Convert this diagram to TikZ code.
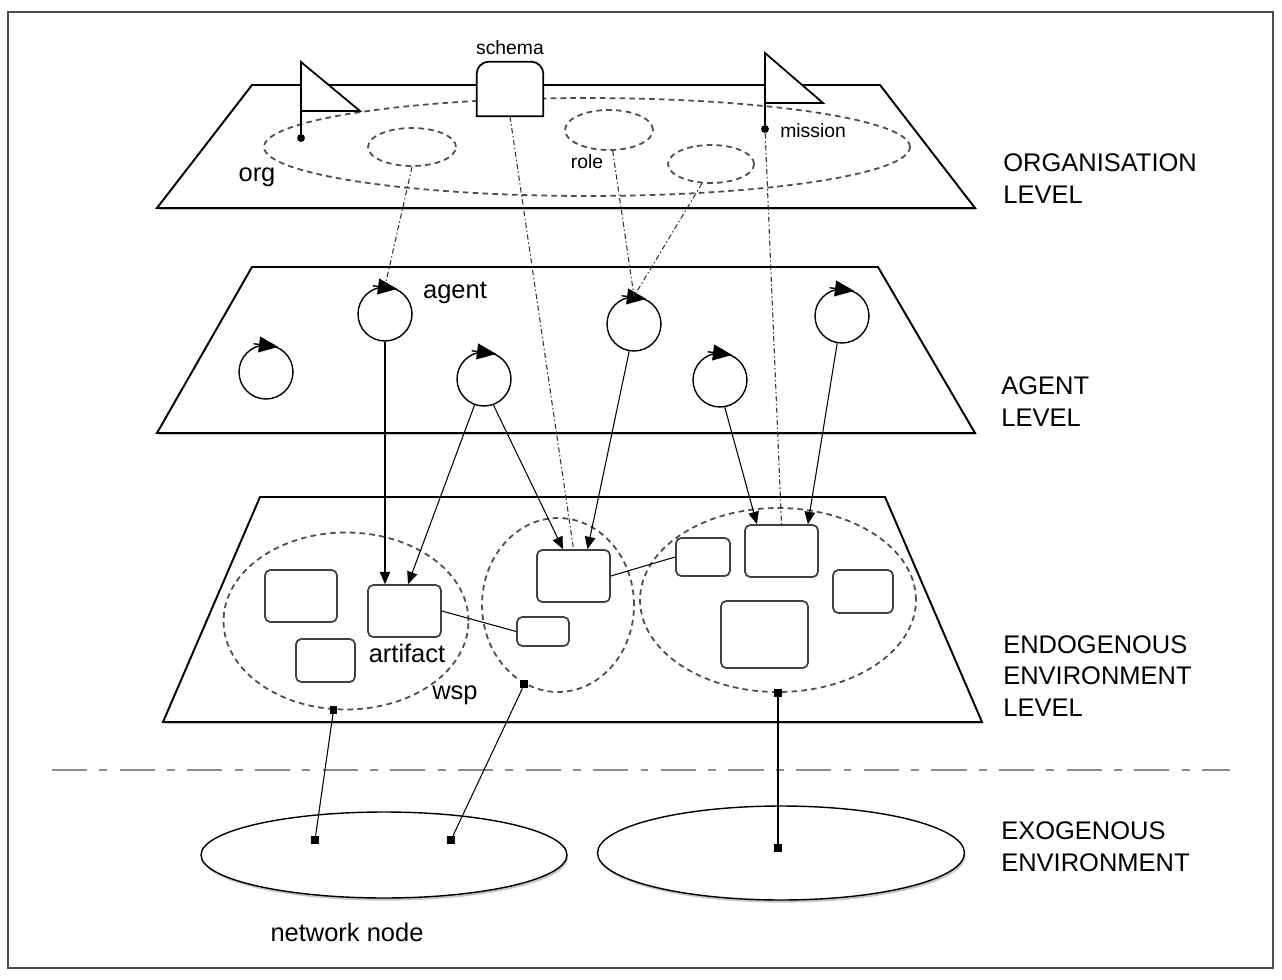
\documentclass[tikz,border=0pt]{standalone}
\usepackage{fontspec}
\setmainfont{Liberation Sans}
\usetikzlibrary{shapes.geometric,arrows.meta,shadows}

\tikzset{
  levelplane/.style={draw, line width=1.1pt, fill=white,
    drop shadow={shadow xshift=0.7pt, shadow yshift=-1.2pt, opacity=0.45}},
  grp/.style={ellipse, draw=black!70, line width=1pt, dash pattern=on 3.2pt off 2.4pt, inner sep=0pt},
  agent/.style={circle, draw, line width=0.8pt, fill=white, minimum size=1.08cm, inner sep=0pt},
  artif/.style={rectangle, rounded corners=3pt, draw=black!75, line width=1pt, fill=white, inner sep=0pt},
  link/.style={line width=0.6pt, black!80, dash pattern=on 3pt off 1.5pt on 0.8pt off 1.5pt},
  act/.style={-{Triangle[length=7pt,width=6pt]}, line width=0.6pt},
  sq/.style={fill, rectangle, minimum size=4.5pt, inner sep=0pt},
  flagdot/.style={fill, circle, minimum size=4.5pt, inner sep=0pt},
  lvl/.style={anchor=west, align=left, inner sep=0pt, font=\fontsize{14.5}{18.1}\selectfont},
  lbl/.style={inner sep=0pt, font=\fontsize{14.5}{17}\selectfont},
  smalltxt/.style={inner sep=0pt, font=\fontsize{11}{13}\selectfont}
}

\begin{document}
\begin{tikzpicture}[x=0.02cm, y=-0.02cm]
\useasboundingbox (0,0) rectangle (1282,980);
\draw[line width=1pt, black!70] (8,12) rectangle (1273,968);

% organisation level
\draw[levelplane] (252,85) -- (880,85) -- (975,208) -- (157,208) -- cycle;
\node[grp, minimum width=12.92cm, minimum height=1.96cm] (orgell) at (587,147) {};
\node[grp, minimum width=1.76cm, minimum height=0.76cm] (roleA) at (412,147) {};
\node[grp, minimum width=1.76cm, minimum height=0.80cm] (roleB) at (609,130) {};
\node[grp, minimum width=1.72cm, minimum height=0.76cm] (roleC) at (711,164) {};
\draw[line width=1pt, fill=white] (301,111) -- (301,62) -- (360,111) -- cycle;
\draw[line width=1pt, fill=white] (765,103) -- (765,53) -- (823,103) -- cycle;
\node[flagdot] (orgdot) at (301,138) {};
\node[flagdot] (misdot) at (765,129) {};
\draw[line width=1pt] (301,111) -- (orgdot);
\draw[line width=1pt] (765,103) -- (misdot);
\node[minimum width=1.32cm, minimum height=1.08cm, inner sep=0pt] (schema) at (510,89) {};
\draw[line width=1pt, fill=white] (schema.south west) -- ([yshift=-7pt]schema.north west)
  arc[start angle=180, end angle=90, radius=7pt] -- ([xshift=-7pt]schema.north east)
  arc[start angle=90, end angle=0, radius=7pt] -- (schema.south east) -- cycle;
\node[smalltxt, above=4pt] at (schema.north) {schema};
\node[lbl] at (257,177) {org};
\node[smalltxt] at (587,162) {role};
\node[smalltxt, anchor=west] at (780,131) {mission};

% agent level
\draw[levelplane] (252,267) -- (878,267) -- (975,433) -- (157,433) -- cycle;
\node[agent] (ag1) at (266,372) {};
\node[agent] (ag2) at (385,314) {};
\node[agent] (ag3) at (484,379) {};
\node[agent] (ag4) at (634,324) {};
\node[agent] (ag5) at (720,380) {};
\node[agent] (ag6) at (842,316) {};
\foreach \i in {1,...,6}
  \draw[-{Triangle[length=11pt,width=9pt]}, line width=0.8pt]
    ([xshift=-7pt,yshift=0.3pt]ag\i.north) -- ([xshift=7pt,yshift=-1.5pt]ag\i.north);
\node[lbl] at (455,293) {agent};

% endogenous environment level
\draw[levelplane] (260,497) -- (885,497) -- (982,722) -- (163,722) -- cycle;
\node[grp, minimum width=4.90cm, minimum height=3.54cm] (wsp1) at (346,621) {};
\node[grp, minimum width=3.04cm, minimum height=3.48cm] (wsp2) at (558,605) {};
\node[grp, minimum width=5.52cm, minimum height=3.68cm] (wsp3) at (778,600) {};
\node[artif, minimum width=1.44cm, minimum height=1.04cm] (l1) at (301,596) {};
\node[artif, minimum width=1.46cm, minimum height=1.04cm] (art) at (404.5,611) {};
\node[artif, minimum width=1.18cm, minimum height=0.86cm] (l3) at (325.5,660.5) {};
\node[artif, minimum width=1.46cm, minimum height=1.04cm] (m1) at (573.5,576) {};
\node[artif, minimum width=1.04cm, minimum height=0.58cm] (m2) at (543,631.5) {};
\node[artif, minimum width=1.08cm, minimum height=0.76cm] (r1) at (703,557) {};
\node[artif, minimum width=1.46cm, minimum height=1.04cm] (r2) at (781.5,551) {};
\node[artif, minimum width=1.20cm, minimum height=0.86cm] (r3) at (863,591.5) {};
\node[artif, minimum width=1.74cm, minimum height=1.34cm] (r4) at (764.5,634.5) {};
\node[lbl] at (407,653) {artifact};
\node[lbl] at (455,695) {wsp};
\draw[line width=0.6pt] (art.east) -- (m2.west);
\draw[line width=0.6pt] (m1.east) -- (r1.west);
\node[sq] (w1) at (wsp1.-98) {};
\node[sq] (w2) at (wsp2.-113) {};
\node[sq] (w3) at (wsp3.south) {};

% links between levels
\draw[link] (roleA.south) -- (ag2.north);
\draw[link] (schema.south) -- (m1.north);
\draw[link] (roleB.-80) -- (ag4.north);
\draw[link] (roleC.-115) -- (ag4.north);
\draw[link] (misdot) -- (r2.north);
\draw[act] (ag2.south) -- (ag2.south |- art.north);
\draw[act] (ag3.-110) -- ([xshift=2pt]art.north);
\draw[act] (ag3.-70) -- ([xshift=-6pt]m1.north);
\draw[act] (ag4.-100) -- ([xshift=8pt]m1.north);
\draw[act] (ag5.-80) -- ([xshift=-14pt]r2.north);
\draw[act] (ag6.-100) -- ([xshift=15pt]r2.north);

% exogenous environment
\draw[line width=1.1pt, black!45, dash pattern=on 20pt off 7pt on 4.5pt off 7pt] (52,770) -- (1230,770);
\node[ellipse, draw, line width=0.8pt, fill=white, minimum width=7.32cm, minimum height=1.72cm,
  drop shadow={shadow xshift=0.7pt, shadow yshift=-1.5pt, opacity=0.45}] (exo1) at (384,855) {};
\node[ellipse, draw, line width=0.8pt, fill=white, minimum width=7.34cm, minimum height=1.88cm,
  drop shadow={shadow xshift=0.7pt, shadow yshift=-1.5pt, opacity=0.45}] (exo2) at (781,853) {};
\node[sq] (n1) at (315,840) {};
\node[sq] (n2) at (451,840) {};
\node[sq] (n3) at (778,848) {};
\draw[line width=0.6pt] (w1) -- (n1);
\draw[line width=0.6pt] (w2) -- (n2);
\draw[line width=0.6pt] (w3) -- (n3);
\node[lbl] at (347,932) {network node};

% level names
\node[lvl] at (1003,179) {ORGANISATION\\LEVEL};
\node[lvl] at (1001,402) {AGENT\\LEVEL};
\node[lvl] at (1003,676) {ENDOGENOUS\\ENVIRONMENT\\LEVEL};
\node[lvl] at (1001,847) {EXOGENOUS\\ENVIRONMENT};
\end{tikzpicture}
\end{document}
